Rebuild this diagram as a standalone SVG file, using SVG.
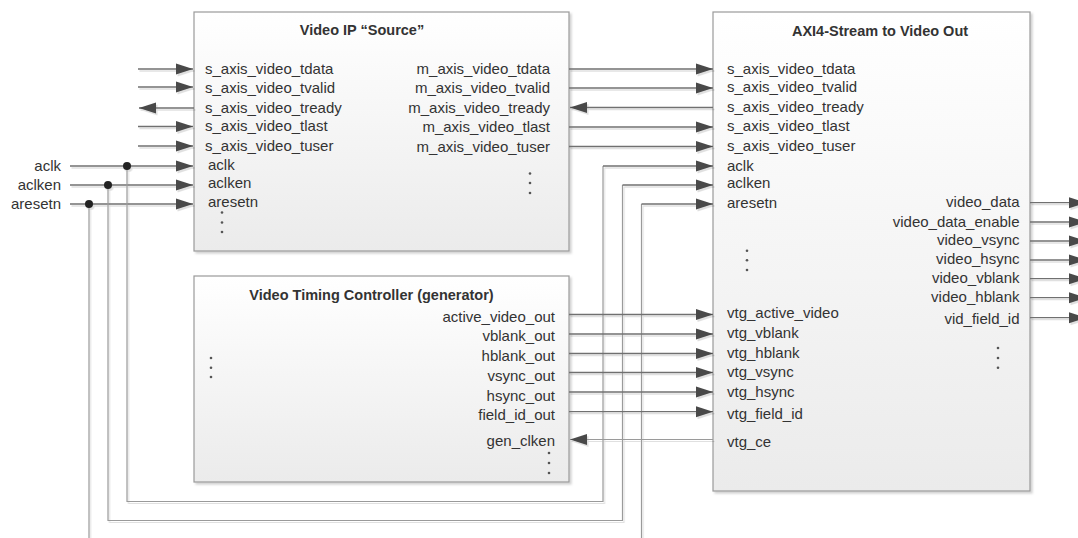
<svg xmlns="http://www.w3.org/2000/svg" width="1078" height="538" viewBox="0 0 1078 538">
<style>
.box{fill:url(#bg);stroke:#9a9a9a;stroke-width:1.2}
.t{font-family:"Liberation Sans",Arial,sans-serif;font-size:15px;fill:#333}
.h{font-family:"Liberation Sans",Arial,sans-serif;font-size:14.5px;font-weight:bold;fill:#333;text-anchor:middle}
.e{text-anchor:end}
.w{fill:none;stroke:#707070;stroke-width:1.3}
.wl{fill:none;stroke:#9a9a9a;stroke-width:1.2}
.a{marker-end:url(#ah)}
.d{fill:#555}
.j{fill:#222}
</style>
<defs>
<linearGradient id="bg" x1="0" y1="0" x2="0" y2="1">
<stop offset="0" stop-color="#ffffff"/>
<stop offset="1" stop-color="#ebebeb"/>
</linearGradient>
<filter id="sh" x="-5%" y="-5%" width="110%" height="110%">
<feDropShadow dx="2" dy="2" stdDeviation="0.8" flood-color="#000" flood-opacity="0.18"/>
</filter>
<filter id="lsh" x="-5%" y="-5%" width="110%" height="110%">
<feDropShadow dx="1.5" dy="2" stdDeviation="0.4" flood-color="#000" flood-opacity="0.12"/>
</filter>
<marker id="ah" markerWidth="18" markerHeight="12" refX="17" refY="6" orient="auto" markerUnits="userSpaceOnUse">
<path d="M0,0.5 L17,6 L0,11.5 Z" fill="#4a4a4a"/>
</marker>
</defs>

<g id="video-ip-source">
<rect class="box" x="194" y="12" width="375" height="239" filter="url(#sh)"/>
<text class="h" x="362" y="35">Video IP “Source”</text>
<text class="t" x="205" y="74">s_axis_video_tdata</text>
<text class="t" x="205" y="92.5">s_axis_video_tvalid</text>
<text class="t" x="205" y="112.5">s_axis_video_tready</text>
<text class="t" x="205" y="131">s_axis_video_tlast</text>
<text class="t" x="205" y="150.5">s_axis_video_tuser</text>
<text class="t" x="208" y="169.5">aclk</text>
<text class="t" x="208" y="188">aclken</text>
<text class="t" x="208" y="207">aresetn</text>
<text class="t e" x="550" y="74">m_axis_video_tdata</text>
<text class="t e" x="550" y="92.7">m_axis_video_tvalid</text>
<text class="t e" x="550" y="113">m_axis_video_tready</text>
<text class="t e" x="550" y="131.5">m_axis_video_tlast</text>
<text class="t e" x="550" y="151.5">m_axis_video_tuser</text>
<circle class="d" cx="222" cy="212.5" r="1.3"/><circle class="d" cx="222" cy="222.5" r="1.3"/><circle class="d" cx="222" cy="232" r="1.3"/>
<circle class="d" cx="530" cy="173.5" r="1.3"/><circle class="d" cx="530" cy="183" r="1.3"/><circle class="d" cx="530" cy="193" r="1.3"/>
</g>

<g id="vtc-generator">
<rect class="box" x="194" y="276" width="375" height="206" filter="url(#sh)"/>
<text class="h" x="371.5" y="300">Video Timing Controller (generator)</text>
<text class="t e" x="555" y="321.5">active_video_out</text>
<text class="t e" x="555" y="341">vblank_out</text>
<text class="t e" x="555" y="360.5">hblank_out</text>
<text class="t e" x="555" y="380.5">vsync_out</text>
<text class="t e" x="555" y="400.5">hsync_out</text>
<text class="t e" x="555" y="420">field_id_out</text>
<text class="t e" x="555" y="446">gen_clken</text>
<circle class="d" cx="211" cy="358" r="1.3"/><circle class="d" cx="211" cy="367.7" r="1.3"/><circle class="d" cx="211" cy="377" r="1.3"/>
<circle class="d" cx="549" cy="453" r="1.3"/><circle class="d" cx="549" cy="463" r="1.3"/><circle class="d" cx="549" cy="473" r="1.3"/>
</g>

<g id="axi4s-to-video-out">
<rect class="box" x="713" y="12" width="317" height="479" filter="url(#sh)"/>
<text class="h" x="880" y="36">AXI4-Stream to Video Out</text>
<text class="t" x="727" y="74">s_axis_video_tdata</text>
<text class="t" x="727" y="92.3">s_axis_video_tvalid</text>
<text class="t" x="727" y="112.3">s_axis_video_tready</text>
<text class="t" x="727" y="130.7">s_axis_video_tlast</text>
<text class="t" x="727" y="150.7">s_axis_video_tuser</text>
<text class="t" x="727" y="170.5">aclk</text>
<text class="t" x="727" y="188">aclken</text>
<text class="t" x="727" y="208.3">aresetn</text>
<text class="t" x="727" y="318.3">vtg_active_video</text>
<text class="t" x="727" y="338.3">vtg_vblank</text>
<text class="t" x="727" y="358.3">vtg_hblank</text>
<text class="t" x="727" y="377.3">vtg_vsync</text>
<text class="t" x="727" y="397.3">vtg_hsync</text>
<text class="t" x="727" y="419.3">vtg_field_id</text>
<text class="t" x="727" y="446.7">vtg_ce</text>
<text class="t e" x="1019.5" y="207.3">video_data</text>
<text class="t e" x="1019.5" y="226.7">video_data_enable</text>
<text class="t e" x="1019.5" y="245.3">video_vsync</text>
<text class="t e" x="1019.5" y="263.5">video_hsync</text>
<text class="t e" x="1019.5" y="282.7">video_vblank</text>
<text class="t e" x="1019.5" y="301.7">video_hblank</text>
<text class="t e" x="1019.5" y="324">vid_field_id</text>
<circle class="d" cx="747" cy="250.7" r="1.3"/><circle class="d" cx="747" cy="260.3" r="1.3"/><circle class="d" cx="747" cy="270" r="1.3"/>
<circle class="d" cx="998" cy="348" r="1.3"/><circle class="d" cx="998" cy="358" r="1.3"/><circle class="d" cx="998" cy="367.7" r="1.3"/>
</g>

<g id="external-labels">
<text class="t e" x="61" y="170.5">aclk</text>
<text class="t e" x="61" y="190">aclken</text>
<text class="t e" x="61" y="209.3">aresetn</text>
</g>

<g id="connectors" filter="url(#lsh)">
<!-- inputs to Video IP -->
<path class="w a" d="M138,69 H193"/>
<path class="w a" d="M138,87 H193"/>
<path class="w a" d="M194,108 H139"/>
<path class="w a" d="M138,126.5 H193"/>
<path class="w a" d="M138,146 H193"/>
<path class="w a" d="M70,166 H193"/>
<path class="w a" d="M70,185 H193"/>
<path class="w a" d="M70,204 H193"/>
<!-- Video IP to AXI4-Stream to Video Out -->
<path class="w a" d="M569,69 H713"/>
<path class="w a" d="M569,88 H713"/>
<path class="w a" d="M713,107.5 H570"/>
<path class="w a" d="M569,127 H713"/>
<path class="w a" d="M569,146.5 H713"/>
<!-- clock / enable / reset distribution -->
<path class="wl" d="M127,166 V501.5 H603 V166"/>
<path class="w a" d="M603,166 H713"/>
<path class="wl" d="M108,185 V520.5 H622.5 V185"/>
<path class="w a" d="M622.5,185 H713"/>
<path class="wl" d="M89,204 V538"/>
<path class="wl" d="M641.5,538 V204"/>
<path class="w a" d="M641.5,204 H713"/>
<!-- VTC to AXI4-Stream to Video Out -->
<path class="w a" d="M569,314.5 H713"/>
<path class="w a" d="M569,334 H713"/>
<path class="w a" d="M569,353.5 H713"/>
<path class="w a" d="M569,372.5 H713"/>
<path class="w a" d="M569,392 H713"/>
<path class="w a" d="M569,411.7 H713"/>
<path class="wl a" d="M713,439.5 H570"/>
<!-- video outputs -->
<path class="w a" d="M1030,202.7 H1086"/>
<path class="w a" d="M1030,222 H1086"/>
<path class="w a" d="M1030,241 H1086"/>
<path class="w a" d="M1030,260 H1086"/>
<path class="w a" d="M1030,278.7 H1086"/>
<path class="w a" d="M1030,297.7 H1086"/>
<path class="w a" d="M1030,317.7 H1086"/>
<!-- junction dots -->
<circle class="j" cx="127" cy="166" r="4"/>
<circle class="j" cx="108" cy="185" r="4"/>
<circle class="j" cx="89" cy="204" r="4"/>
</g>
</svg>
